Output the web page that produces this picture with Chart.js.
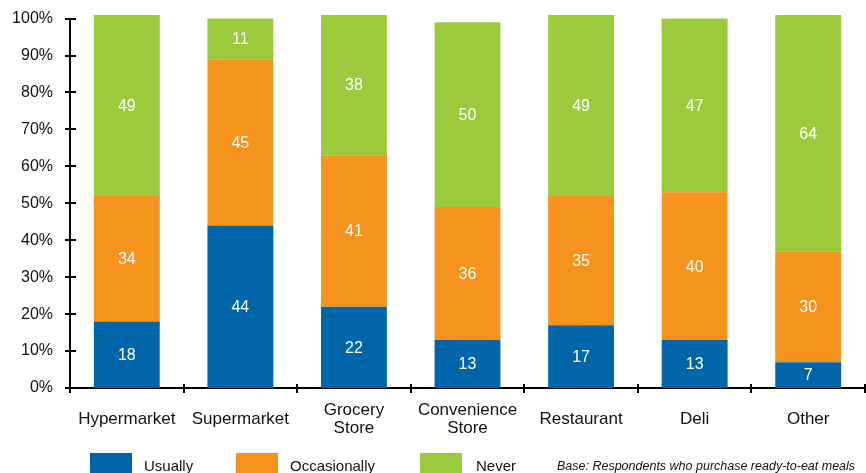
<!DOCTYPE html>
<html>
<head>
<meta charset="utf-8">
<script src="https://cdn.jsdelivr.net/npm/chart.js@4/dist/chart.umd.min.js"></script>
<style>
  body { margin: 0; background: #fff; font-family: "Liberation Sans", Arial, sans-serif; }
  #wrap { position: relative; width: 866px; height: 473px; overflow: hidden; }
  canvas { position: absolute; left: 0; top: 0; }
  .sw { position: absolute; top: 453px; width: 42px; height: 20px; }
  .lt { position: absolute; top: 457px; font-size: 15px; line-height: 18px; color: #111; white-space: nowrap; }
  .note { position: absolute; top: 459px; left: 557px; font-size: 12.5px; font-style: italic; line-height: 15px; color: #111; white-space: nowrap; }
</style>
</head>
<body>
<div id="wrap">
  <canvas id="c" width="866" height="473"></canvas>
  <div class="sw" style="left:90px;background:#0066a9"></div>
  <div class="lt" style="left:144px">Usually</div>
  <div class="sw" style="left:236px;background:#f6921e"></div>
  <div class="lt" style="left:290px">Occasionally</div>
  <div class="sw" style="left:420px;background:#9bca3c"></div>
  <div class="lt" style="left:476px">Never</div>
  <div class="note">Base: Respondents who purchase ready-to-eat meals</div>
</div>
<script>
const categories = [["Hypermarket"], ["Supermarket"], ["Grocery", "Store"], ["Convenience", "Store"], ["Restaurant"], ["Deli"], ["Other"]];
const usually      = [18, 44, 22, 13, 17, 13, 7];
const occasionally = [34, 45, 41, 36, 35, 40, 30];
const never        = [49, 11, 38, 50, 49, 47, 64];
const yTicks       = [0, 10, 20, 30, 40, 50, 60, 70, 80, 90, 100];

const FONT = '"Liberation Sans", Arial, sans-serif';

const valueLabels = {
  id: 'valueLabels',
  afterDatasetsDraw(chart) {
    const ctx = chart.ctx;
    ctx.save();
    ctx.font = '16px ' + FONT;
    ctx.fillStyle = '#ffffff';
    ctx.textAlign = 'center';
    ctx.textBaseline = 'middle';
    chart.data.datasets.forEach((ds, i) => {
      const meta = chart.getDatasetMeta(i);
      meta.data.forEach((bar, j) => {
        ctx.fillText(String(ds.data[j]), bar.x, (bar.y + bar.base) / 2 + 1);
      });
    });
    ctx.restore();
  }
};

const crossTicks = {
  id: 'crossTicks',
  afterDraw(chart) {
    const ctx = chart.ctx;
    const xs = chart.scales.x, ys = chart.scales.y;
    const left = chart.chartArea.left, bottom = chart.chartArea.bottom;
    ctx.save();
    ctx.strokeStyle = '#000';
    ctx.lineWidth = 2;
    ctx.beginPath();
    yTicks.forEach(v => {
      const py = Math.round(ys.getPixelForValue(v));
      ctx.moveTo(left - 5, py);
      ctx.lineTo(left + 6, py);
    });
    const half = (xs.getPixelForValue(1) - xs.getPixelForValue(0)) / 2;
    for (let i = 0; i <= categories.length; i++) {
      const px = Math.round(xs.getPixelForValue(i) - half);
      ctx.moveTo(px, bottom - 4);
      ctx.lineTo(px, bottom + 5);
    }
    ctx.stroke();
    ctx.restore();
  }
};

new Chart(document.getElementById('c'), {
  type: 'bar',
  data: {
    labels: categories,
    datasets: [
      { label: 'Usually', data: usually, backgroundColor: '#0066a9' },
      { label: 'Occasionally', data: occasionally, backgroundColor: '#f6921e' },
      { label: 'Never', data: never, backgroundColor: '#9bca3c' }
    ]
  },
  options: {
    responsive: false,
    animation: false,
    layout: { padding: { top: 10, right: 1, left: 0, bottom: 0 } },
    datasets: { bar: { categoryPercentage: 1, barPercentage: 0.58, borderWidth: 0, clip: false } },
    plugins: { legend: { display: false }, tooltip: { enabled: false } },
    scales: {
      x: {
        stacked: true,
        grid: { display: false },
        border: { display: true, color: '#000', width: 2 },
        afterFit: s => { s.height = 85; },
        ticks: {
          autoSkip: false, maxRotation: 0, minRotation: 0,
          crossAlign: 'center', padding: 14,
          color: '#111',
          font: { family: FONT, size: 17, lineHeight: 18 / 17 }
        }
      },
      y: {
        stacked: true,
        min: 0, max: 100,
        grid: { display: false },
        border: { display: true, color: '#000', width: 2 },
        afterFit: s => { s.width = 70; },
        afterBuildTicks: s => { s.ticks = yTicks.map(v => ({ value: v })); },
        ticks: {
          padding: 9,
          color: '#111',
          font: { family: FONT, size: 16 },
          callback: v => v + '%'
        }
      }
    }
  },
  plugins: [valueLabels, crossTicks]
});
</script>
</body>
</html>
